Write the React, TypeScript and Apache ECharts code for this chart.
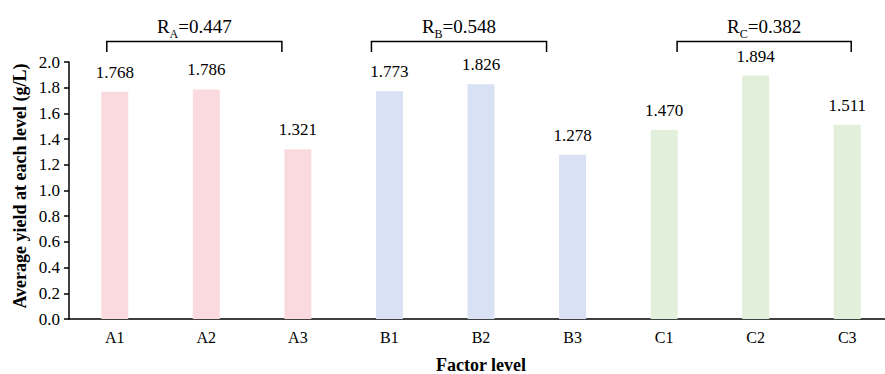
import React, { useEffect, useRef } from "react";
import * as echarts from "echarts";

const categories = ["A1", "A2", "A3", "B1", "B2", "B3", "C1", "C2", "C3"];
const values = [1.768, 1.786, 1.321, 1.773, 1.826, 1.278, 1.47, 1.894, 1.511];
const barColors = ["#FADADF", "#FADADF", "#FADADF", "#D9E1F4", "#D9E1F4", "#D9E1F4", "#E2EFDA", "#E2EFDA", "#E2EFDA"];
const rangeLabels = [
  { letter: "R", sub: "A", value: "0.447", from: 0, to: 2, offFrom: -8, offTo: -16 },
  { letter: "R", sub: "B", value: "0.548", from: 3, to: 5, offFrom: -18, offTo: -26 },
  { letter: "R", sub: "C", value: "0.382", from: 6, to: 8, offFrom: 13, offTo: 4 },
];
const yTicks = [0, 0.2, 0.4, 0.6, 0.8, 1.0, 1.2, 1.4, 1.6, 1.8, 2.0];
const yTitle = "Average yield at each level (g/L)";
const xTitle = "Factor level";

const FONT = "Liberation Serif";

export default function App() {
  const ref = useRef<HTMLDivElement>(null);
  useEffect(() => {
    if (!ref.current) return;
    const chart = echarts.init(ref.current, undefined, { renderer: "svg" });
    chart.setOption({
      animation: false,
      backgroundColor: "#ffffff",
      textStyle: { fontFamily: FONT },
      grid: { left: 69, top: 62, height: 257, width: 824, outerBoundsMode: "none", containLabel: false },
      xAxis: {
        type: "category",
        data: categories,
        name: xTitle,
        nameLocation: "middle",
        nameGap: 37,
        nameTextStyle: { fontFamily: FONT, fontSize: 18, fontWeight: "bold", color: "#000" },
        axisLine: { lineStyle: { color: "#000", width: 1.5 } },
        axisTick: { alignWithLabel: true, length: 4, lineStyle: { color: "#000", width: 1.5 } },
        axisLabel: { fontFamily: FONT, fontSize: 16, color: "#000", margin: 10 },
      },
      yAxis: {
        type: "value",
        min: yTicks[0],
        max: yTicks[yTicks.length - 1],
        interval: 0.2,
        splitLine: { show: false },
        axisLine: { show: true, lineStyle: { color: "#000", width: 1.5 } },
        axisTick: { show: true, length: 5, lineStyle: { color: "#000", width: 1.5 } },
        axisLabel: {
          fontFamily: FONT,
          fontSize: 17,
          color: "#000",
          margin: 9,
          formatter: (v: number) => v.toFixed(1),
        },
      },
      series: [
        {
          type: "bar",
          barWidth: 27,
          data: values.map((v, i) => ({ value: v, itemStyle: { color: barColors[i] } })),
          label: {
            show: true,
            position: "top",
            distance: 11,
            fontFamily: FONT,
            fontSize: 17,
            color: "#000",
            formatter: (p: any) => Number(p.value).toFixed(3),
          },
        },
      ],
    });

    const graphics: any[] = [
      {
        type: "text",
        x: 20,
        y: 186,
        rotation: Math.PI / 2,
        style: {
          text: yTitle,
          align: "center",
          verticalAlign: "middle",
          fontFamily: FONT,
          fontSize: 18,
          fontWeight: "bold",
          fill: "#000",
        },
      },
    ];
    rangeLabels.forEach((r) => {
      const p1 = chart.convertToPixel({ xAxisIndex: 0 }, r.from) as number;
      const p2 = chart.convertToPixel({ xAxisIndex: 0 }, r.to) as number;
      const x1 = p1 + r.offFrom;
      const x2 = p2 + r.offTo;
      const yTop = 41.5;
      const yBot = 52;
      graphics.push({
        type: "polyline",
        shape: { points: [[x1, yBot], [x1, yTop], [x2, yTop], [x2, yBot]] },
        style: { stroke: "#000", lineWidth: 1.5, fill: null },
      });
      graphics.push({
        type: "text",
        x: (x1 + x2) / 2,
        y: 28,
        style: {
          text: `{r|${r.letter}}{s|${r.sub}}{r|=${r.value}}`,
          align: "center",
          verticalAlign: "middle",
          fontFamily: FONT,
          rich: {
            r: { fontFamily: FONT, fontSize: 19, color: "#000", lineHeight: 22, verticalAlign: "top" },
            s: { fontFamily: FONT, fontSize: 12, color: "#000", lineHeight: 12, verticalAlign: "top", padding: [11, 0, 0, 0] },
          },
        },
      });
    });
    chart.setOption({ graphic: graphics });

    return () => chart.dispose();
  }, []);
  return (
    <div
      ref={ref}
      style={{ position: "absolute", left: 0, top: 0, width: 885, height: 374 }}
    />
  );
}
